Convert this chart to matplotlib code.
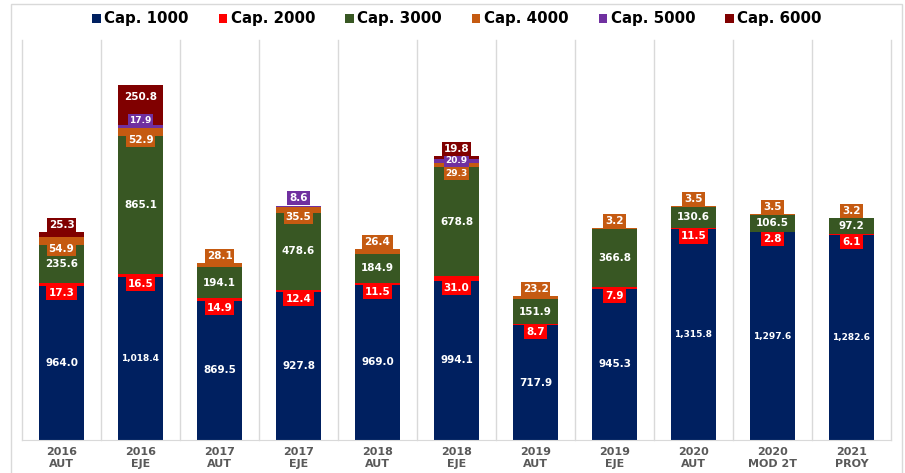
import matplotlib
matplotlib.use("Agg")
import matplotlib.pyplot as plt
from matplotlib.patches import Patch, Rectangle
import numpy as np

categories = ["2016\nAUT", "2016\nEJE", "2017\nAUT", "2017\nEJE", "2018\nAUT", "2018\nEJE",
              "2019\nAUT", "2019\nEJE", "2020\nAUT", "2020\nMOD 2T", "2021\nPROY"]
series_names = ["Cap. 1000", "Cap. 2000", "Cap. 3000", "Cap. 4000", "Cap. 5000", "Cap. 6000"]
c1000 = [964.0, 1018.4, 869.5, 927.8, 969.0, 994.1, 717.9, 945.3, 1315.8, 1297.6, 1282.6]
c2000 = [17.3, 16.5, 14.9, 12.4, 11.5, 31.0, 8.7, 7.9, 11.5, 2.8, 6.1]
c3000 = [235.6, 865.1, 194.1, 478.6, 184.9, 678.8, 151.9, 366.8, 130.6, 106.5, 97.2]
c4000 = [54.9, 52.9, 28.1, 35.5, 26.4, 29.3, 23.2, 3.2, 3.5, 3.5, 3.2]
c5000 = [0, 17.9, 0, 8.6, 0, 20.9, 0, 0, 0, 0, 0]
c6000 = [25.3, 250.8, 0, 0, 0, 19.8, 0, 0, 0, 0, 0]

colors = ["#002060", "#FF0000", "#385723", "#C55A11", "#7030A0", "#800000"]

W, H = 905, 473
fig = plt.figure(figsize=(W / 100, H / 100), dpi=100)
ax = fig.add_axes([22 / W, (H - 440) / H, (891 - 22) / W, (440 - 40) / H])

series = [c1000, c2000, c3000, c4000, c5000, c6000]
x = np.arange(len(categories))
bottoms = np.zeros(len(categories))
seg = []
for vals, col in zip(series, colors):
    v = np.array(vals, dtype=float)
    ax.bar(x, v, bottom=bottoms, width=0.56, color=col, edgecolor="none", zorder=2)
    seg.append((bottoms.copy(), bottoms + v))
    bottoms = bottoms + v

ax.set_xlim(-0.5, len(categories) - 0.5)
ax.set_ylim(0, 2500)
ax.set_yticks([])
for i in range(len(categories) + 1):
    ax.axvline(i - 0.5, color="#D9D9D9", lw=1, zorder=1, clip_on=False)
for s in ["top", "left", "right"]:
    ax.spines[s].set_visible(False)
ax.spines["bottom"].set_color("#D9D9D9")
ax.set_xticks(x)
ax.set_xticklabels(categories, fontsize=8, fontweight="bold", color="#595959", linespacing=1.2)
ax.tick_params(axis="x", length=0, pad=5)

PX = 0.72  # points per pixel


def lab(i, yval, text, col, dy_px, fs=7.5, box=True):
    kw = dict(xy=(i, yval), xytext=(0, dy_px * PX), textcoords="offset points",
              ha="center", va="center", color="white", fontsize=fs, fontweight="bold", zorder=5)
    if box:
        kw["bbox"] = dict(boxstyle="square,pad=0.2", fc=col, ec="none")
    ax.annotate(text, **kw)


def fmt(v):
    return f"{v:,.1f}"


for i in x:
    # Cap 1000
    b, t = seg[0][0][i], seg[0][1][i]
    v = c1000[i]
    lab(i, (b + t) / 2, fmt(v), colors[0], 0, fs=6.5 if v >= 1000 else 7.5, box=False)
    # Cap 2000
    b, t = seg[1][0][i], seg[1][1][i]
    lab(i, b, fmt(c2000[i]), colors[1], -7)
    # Cap 3000
    b, t = seg[2][0][i], seg[2][1][i]
    lab(i, (b + t) / 2, fmt(c3000[i]), colors[2], 0)
    # Cap 4000
    b, t = seg[3][0][i], seg[3][1][i]
    crowded = c5000[i] > 0 and 0 < c6000[i] < 100
    if c5000[i] == 0 and c6000[i] == 0:
        lab(i, t, fmt(c4000[i]), colors[3], 7)
    elif crowded:
        lab(i, b, fmt(c4000[i]), colors[3], -6, fs=6.5)
    else:
        lab(i, b, fmt(c4000[i]), colors[3], -4)
    # Cap 5000
    if c5000[i] > 0:
        b, t = seg[4][0][i], seg[4][1][i]
        if c6000[i] == 0:
            lab(i, t, fmt(c5000[i]), colors[4], 8)
        elif c6000[i] > 100:
            lab(i, t, fmt(c5000[i]), colors[4], 4, fs=6.5)
        else:
            lab(i, b, fmt(c5000[i]), colors[4], 2, fs=6.5)
    # Cap 6000
    if c6000[i] > 0:
        b, t = seg[5][0][i], seg[5][1][i]
        if c6000[i] > 100:
            lab(i, t, fmt(c6000[i]), colors[5], -12)
        else:
            lab(i, t, fmt(c6000[i]), colors[5], 7)

handles = [Patch(facecolor=c, edgecolor="none", label=n) for n, c in zip(series_names, colors)]
fig.legend(handles=handles, loc="center", bbox_to_anchor=(457 / W, 1 - 19 / H), ncol=6,
           frameon=False, prop=dict(size=10.8, weight="bold"), handlelength=0.55, handleheight=0.55,
           handletextpad=0.25, columnspacing=2.0)

fig.patches.append(Rectangle((11 / W, -0.01), (902 - 11) / W, 1.01 - 4 / H, transform=fig.transFigure,
                             fill=False, ec="#D9D9D9", lw=1))

fig.savefig("out.png", dpi=100)
